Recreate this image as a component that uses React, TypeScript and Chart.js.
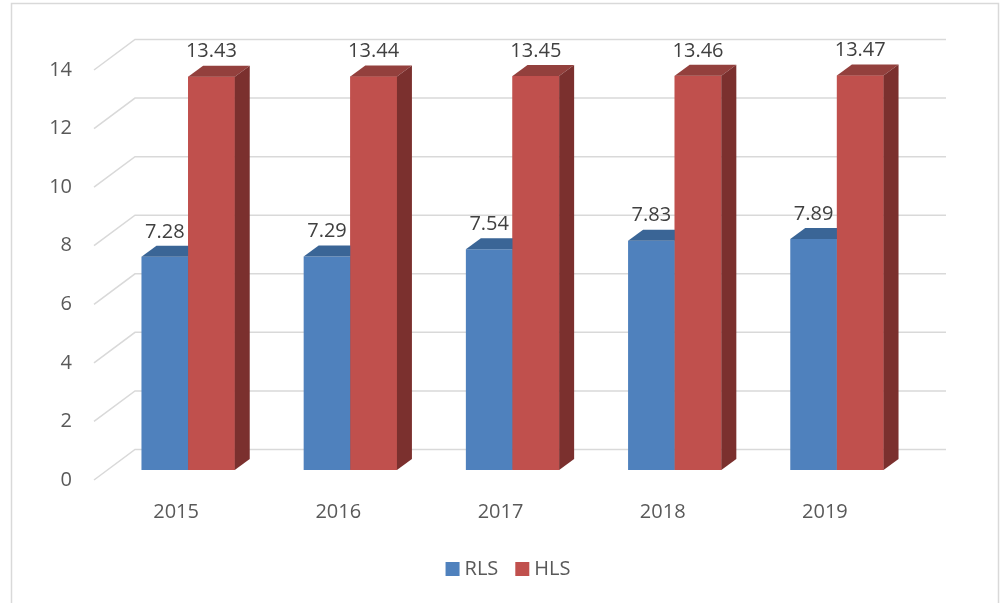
import React, { useEffect, useRef } from 'react';
import { Chart, registerables } from 'chart.js';

Chart.register(...registerables);

const years = ['2015', '2016', '2017', '2018', '2019'];
const rlsValues = [7.28, 7.29, 7.54, 7.83, 7.89];
const hlsValues = [13.43, 13.44, 13.45, 13.46, 13.47];
const seriesNames = ['RLS', 'HLS'];
const yTickValues = [0, 2, 4, 6, 8, 10, 12, 14];

const FRONT_COLORS = ['#4F81BD', '#C0504D'];
const TOP_COLORS = ['#3A6596', '#93403D'];
const SIDE_COLORS = ['#345A87', '#7B302E'];
const FONT = '"Open Sans", "DejaVu Sans", sans-serif';

const BAR_DX = 15;
const BAR_DY = 11;

const depthPlugin = {
  id: 'depth3d',
  beforeDraw(chart: any) {
    const { ctx } = chart;
    ctx.save();
    ctx.fillStyle = '#FFFFFF';
    ctx.fillRect(0, 0, chart.width, chart.height);
    ctx.strokeStyle = '#D9D9D9';
    ctx.lineWidth = 1.5;
    ctx.strokeRect(11.5, 3.5, 987, 640);
    ctx.restore();
  },
  beforeDatasetsDraw(chart: any) {
    const { ctx, chartArea, scales } = chart;
    const { left, right } = chartArea;
    const y = scales.y;
    ctx.save();
    ctx.strokeStyle = '#D9D9D9';
    ctx.lineWidth = 1.5;
    for (const v of yTickValues) {
      const py = y.getPixelForValue(v);
      ctx.beginPath();
      ctx.moveTo(left - 13, py + 10);
      ctx.lineTo(left + 28, py - 20.5);
      ctx.lineTo(right + 28, py - 20.5);
      ctx.stroke();
    }
    ctx.restore();
  },
  afterDatasetsDraw(chart: any) {
    const { ctx } = chart;
    ctx.save();
    for (let i = 0; i < 2; i++) {
      const meta = chart.getDatasetMeta(i);
      meta.data.forEach((el: any) => {
        const { x, y, base, width } = el.getProps(['x', 'y', 'base', 'width'], true);
        const l = x - width / 2;
        const r = x + width / 2;
        if (i === 1) {
          ctx.fillStyle = FRONT_COLORS[i];
          ctx.fillRect(l, y, r - l, base - y);
        }
        ctx.fillStyle = TOP_COLORS[i];
        ctx.beginPath();
        ctx.moveTo(l, y);
        ctx.lineTo(l + BAR_DX, y - BAR_DY);
        ctx.lineTo(r + BAR_DX, y - BAR_DY);
        ctx.lineTo(r, y);
        ctx.closePath();
        ctx.fill();
        ctx.fillStyle = SIDE_COLORS[i];
        ctx.beginPath();
        ctx.moveTo(r, y);
        ctx.lineTo(r + BAR_DX, y - BAR_DY);
        ctx.lineTo(r + BAR_DX, base - BAR_DY);
        ctx.lineTo(r, base);
        ctx.closePath();
        ctx.fill();
      });
    }
    ctx.fillStyle = '#404040';
    ctx.font = `20px ${FONT}`;
    ctx.textAlign = 'center';
    ctx.textBaseline = 'middle';
    for (let i = 0; i < 2; i++) {
      const meta = chart.getDatasetMeta(i);
      const data = chart.data.datasets[i].data;
      meta.data.forEach((el: any, j: number) => {
        const { x, y } = el.getProps(['x', 'y'], true);
        ctx.fillText(Number(data[j]).toFixed(2), x, y - 25);
      });
    }
    ctx.restore();
  },
  afterDraw(chart: any) {
    const { ctx } = chart;
    ctx.save();
    ctx.font = `20px ${FONT}`;
    ctx.textBaseline = 'middle';
    ctx.textAlign = 'left';
    const box = 14;
    const gapText = 5;
    const gapItem = 17;
    const widths = seriesNames.map((n) => ctx.measureText(n).width);
    const total = widths.reduce((a, w) => a + box + gapText + w, 0) + gapItem * (seriesNames.length - 1);
    let x = 508 - total / 2;
    const cy = 569;
    seriesNames.forEach((n, i) => {
      ctx.fillStyle = FRONT_COLORS[i];
      ctx.fillRect(x, cy - box / 2, box, box);
      x += box + gapText;
      ctx.fillStyle = '#595959';
      ctx.fillText(n, x, cy);
      x += widths[i] + gapItem;
    });
    ctx.restore();
  },
};

export default function App() {
  const canvasRef = useRef<HTMLCanvasElement | null>(null);

  useEffect(() => {
    const canvas = canvasRef.current;
    if (!canvas) return;
    const chart = new Chart(canvas, {
      type: 'bar',
      data: {
        labels: years,
        datasets: [
          { label: seriesNames[0], data: rlsValues, backgroundColor: FRONT_COLORS[0], borderWidth: 0 },
          { label: seriesNames[1], data: hlsValues, backgroundColor: FRONT_COLORS[1], borderWidth: 0 },
        ],
      },
      options: {
        responsive: false,
        animation: false,
        layout: { padding: { left: 0, right: 84, top: 60, bottom: 73 } },
        datasets: { bar: { categoryPercentage: 0.575, barPercentage: 1 } },
        plugins: {
          legend: { display: false },
          tooltip: { enabled: false },
        },
        scales: {
          x: {
            grid: { display: false, drawTicks: false },
            border: { display: false },
            ticks: {
              font: { family: FONT, size: 20 },
              color: '#595959',
              padding: 30,
              labelOffset: -12,
            },
            afterFit: (s: any) => {
              s.height = 60;
            },
          },
          y: {
            min: 0,
            max: 14,
            grid: { display: false, drawTicks: false },
            border: { display: false },
            ticks: {
              stepSize: 2,
              font: { family: FONT, size: 20 },
              color: '#595959',
              padding: 35,
              labelOffset: 10,
            },
            afterFit: (s: any) => {
              s.width = 107;
            },
          },
        },
      },
      plugins: [depthPlugin],
    });
    return () => chart.destroy();
  }, []);

  return (
    <div style={{ position: 'absolute', left: 0, top: 0, width: 1002, height: 603 }}>
      <canvas ref={canvasRef} width={1002} height={603} style={{ display: 'block' }} />
    </div>
  );
}
